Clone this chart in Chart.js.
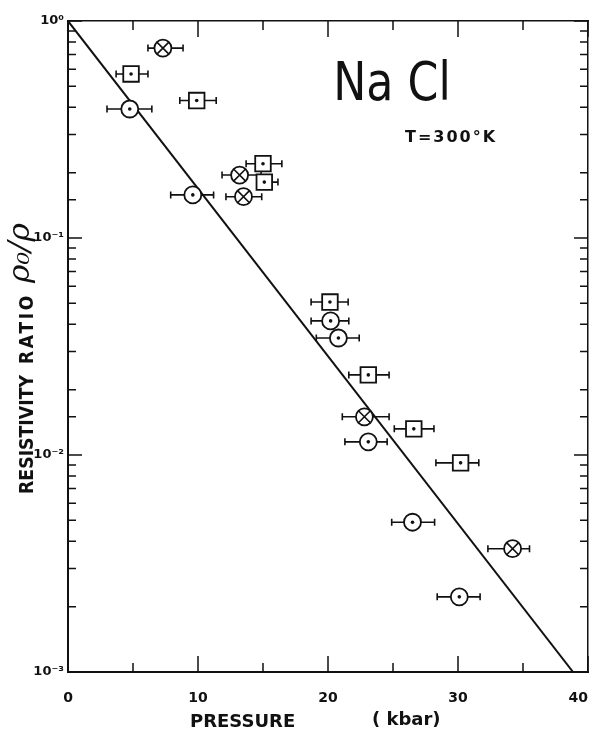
<!DOCTYPE html>
<html>
<head>
<meta charset="utf-8">
<script src="https://cdn.jsdelivr.net/npm/chart.js@4"></script>
<style>
  body { margin: 0; background: #fff; }
  canvas { display: block; }
</style>
</head>
<body>
<canvas id="chart" width="590" height="734"></canvas>
<script>
// NaCl, resistivity ratio rho0/rho vs pressure at 300 K

const xTickVals = [0, 10, 20, 30, 40];
const yTickExp = [-3, -2, -1, 0];
const yTickText = ['10⁻³', '10⁻²', '10⁻¹', '10⁰'];

// open circle with centre dot
const dotP  = [4.75, 9.6, 20.2, 20.8, 23.1, 26.5, 30.1];
const dotR  = [0.393, 0.158, 0.0415, 0.0346, 0.0115, 0.0049, 0.00222];
const dotLo = [3.0, 7.9, 18.7, 19.1, 21.3, 24.9, 28.4];
const dotHi = [6.45, 11.2, 21.6, 22.4, 24.55, 28.2, 31.7];

// square with centre dot
const sqP  = [4.85, 9.9, 15.0, 15.1, 20.15, 23.1, 26.6, 30.2];
const sqR  = [0.57, 0.43, 0.22, 0.181, 0.0507, 0.0234, 0.0132, 0.0092];
const sqLo = [3.7, 8.6, 13.7, 14.7, 18.7, 21.6, 25.1, 28.3];
const sqHi = [6.15, 11.4, 16.45, 16.15, 21.55, 24.7, 28.15, 31.6];

// crossed circle
const crP  = [7.3, 13.2, 13.5, 22.8, 34.2];
const crR  = [0.75, 0.195, 0.155, 0.015, 0.0037];
const crLo = [6.15, 11.85, 12.15, 21.1, 32.3];
const crHi = [8.85, 14.85, 14.9, 24.7, 35.5];

// straight fit line
const fitP = [0, 38.85];
const fitR = [1, 0.001];

const ink = '#111';
const pts = (xs, ys) => xs.map((x, i) => ({ x: x, y: ys[i] }));
const isDecade = v => Math.abs(Math.log10(v) - Math.round(Math.log10(v))) < 1e-6;

// horizontal error bars with end caps
const errorBars = {
  id: 'errorBars',
  beforeDatasetsDraw(chart) {
    const { ctx, scales: { x, y } } = chart;
    ctx.save();
    ctx.strokeStyle = ink;
    ctx.lineWidth = 1.6;
    [[dotLo, dotHi, dotR], [sqLo, sqHi, sqR], [crLo, crHi, crR]].forEach(([lo, hi, r]) => {
      lo.forEach((l, i) => {
        const py = y.getPixelForValue(r[i]);
        const x1 = x.getPixelForValue(l);
        const x2 = x.getPixelForValue(hi[i]);
        ctx.beginPath();
        ctx.moveTo(x1, py); ctx.lineTo(x2, py);
        ctx.moveTo(x1, py - 3.5); ctx.lineTo(x1, py + 3.5);
        ctx.moveTo(x2, py - 3.5); ctx.lineTo(x2, py + 3.5);
        ctx.stroke();
      });
    });
    ctx.restore();
  }
};

// tick marks pointing into the plot on all four sides
const inTicks = {
  id: 'inTicks',
  afterDraw(chart) {
    const { ctx, chartArea: a, scales: { x, y } } = chart;
    ctx.save();
    ctx.strokeStyle = ink;
    ctx.lineWidth = 1.5;
    ctx.beginPath();
    x.ticks.forEach(t => {
      const px = x.getPixelForValue(t.value);
      const len = t.value % 10 === 0 ? 16 : 9;
      ctx.moveTo(px, a.bottom); ctx.lineTo(px, a.bottom - len);
      ctx.moveTo(px, a.top); ctx.lineTo(px, a.top + len);
    });
    y.ticks.forEach(t => {
      const py = y.getPixelForValue(t.value);
      const len = isDecade(t.value) ? 14 : 8;
      ctx.moveTo(a.left, py); ctx.lineTo(a.left + len, py);
      ctx.moveTo(a.right, py); ctx.lineTo(a.right - len, py);
    });
    ctx.stroke();
    ctx.restore();
  }
};

// vertical text squeezed to a given length, reading upwards from y0
function upText(ctx, txt, x, y0, len, font) {
  ctx.save();
  ctx.font = font;
  const w = ctx.measureText(txt).width;
  ctx.translate(x, y0);
  ctx.rotate(-Math.PI / 2);
  ctx.scale(len / w, 1);
  ctx.fillText(txt, 0, 0);
  ctx.restore();
}

// titles and labels
const texts = {
  id: 'texts',
  afterDraw(chart) {
    const ctx = chart.ctx;
    ctx.save();
    ctx.fillStyle = ink;
    ctx.textBaseline = 'alphabetic';

    // NaCl
    ctx.save();
    ctx.translate(392, 100);
    ctx.scale(0.82, 1);
    ctx.font = '54px "DejaVu Sans"';
    ctx.textAlign = 'center';
    ctx.fillText('Na Cl', 0, 0);
    ctx.restore();

    ctx.font = 'bold 16px "DejaVu Sans"';
    ctx.textAlign = 'left';
    ctx.letterSpacing = '2px';
    ctx.fillText('T=300°K', 405, 142);

    ctx.font = 'bold 18px "DejaVu Sans"';
    ctx.letterSpacing = '0px';
    ctx.fillText('PRESSURE', 190, 727);
    ctx.fillText('( kbar)', 372, 725);

    // y title
    upText(ctx, 'RESISTIVITY', 33, 494, 119, 'bold 19px "DejaVu Sans"');
    ctx.letterSpacing = '3px';
    upText(ctx, 'RATIO', 33, 364, 71, 'bold 19px "DejaVu Sans"');
    ctx.letterSpacing = '0px';
    upText(ctx, 'ρ₀/ρ', 29, 283, 60, 'italic 30px "DejaVu Serif"');

    ctx.restore();
  }
};

const tickFont = { family: 'DejaVu Sans', size: 14, weight: 'bold' };

new Chart(document.getElementById('chart'), {
  type: 'scatter',
  data: {
    datasets: [
      {
        data: pts(fitP, fitR), showLine: true, pointRadius: 0,
        borderColor: ink, borderWidth: 2, order: 10
      },
      {
        data: pts(dotP, dotR), pointStyle: 'circle', pointRadius: 8.5,
        pointBackgroundColor: '#fff', pointBorderColor: ink, pointBorderWidth: 1.8, order: 2
      },
      {
        data: pts(sqP, sqR), pointStyle: 'rect', pointRadius: 11,
        pointBackgroundColor: '#fff', pointBorderColor: ink, pointBorderWidth: 1.8, order: 2
      },
      {
        data: pts(crP, crR), pointStyle: 'circle', pointRadius: 8.5,
        pointBackgroundColor: '#fff', pointBorderColor: ink, pointBorderWidth: 1.8, order: 2
      },
      {
        data: pts(crP, crR), pointStyle: 'crossRot', pointRadius: 8.5,
        pointBorderColor: ink, pointBorderWidth: 1.6, order: 1
      },
      {
        data: pts(dotP.concat(sqP), dotR.concat(sqR)), pointStyle: 'circle', pointRadius: 1.8,
        pointBackgroundColor: ink, pointBorderColor: ink, pointBorderWidth: 0, order: 1
      }
    ]
  },
  options: {
    responsive: false,
    animation: false,
    events: [],
    layout: { padding: 0, autoPadding: false },
    plugins: { legend: { display: false }, tooltip: { enabled: false } },
    scales: {
      x: {
        type: 'linear', position: 'bottom', min: 0, max: 40,
        grid: { display: false },
        border: { display: true, color: ink, width: 2 },
        ticks: {
          stepSize: 5, autoSkip: false, maxRotation: 0, padding: 10,
          color: ink, font: tickFont,
          callback: v => xTickVals.includes(v) ? (v === 40 ? '40    ' : String(v)) : ''
        },
        afterFit: s => { s.height = 62; s.paddingLeft = 0; s.paddingRight = 0; }
      },
      x2: {
        type: 'linear', position: 'top', min: 0, max: 40,
        grid: { display: false },
        border: { display: true, color: ink, width: 1.5 },
        ticks: { display: false },
        afterFit: s => { s.height = 21; s.paddingLeft = 0; s.paddingRight = 0; }
      },
      y: {
        type: 'logarithmic', position: 'left', min: 0.001, max: 1,
        grid: { display: false },
        border: { display: true, color: ink, width: 2 },
        ticks: {
          autoSkip: false, padding: -4, color: ink,
          font: { family: 'DejaVu Sans', size: 13, weight: 'bold' },
          callback: v => isDecade(v) ? yTickText[yTickExp.indexOf(Math.round(Math.log10(v)))] : ''
        },
        afterFit: s => { s.width = 68; s.paddingTop = 0; s.paddingBottom = 0; }
      },
      y2: {
        type: 'logarithmic', position: 'right', min: 0.001, max: 1,
        grid: { display: false },
        border: { display: true, color: ink, width: 1.5 },
        ticks: { display: false },
        afterFit: s => { s.width = 2; s.paddingTop = 0; s.paddingBottom = 0; }
      }
    }
  },
  plugins: [errorBars, inTicks, texts]
});
</script>
</body>
</html>
